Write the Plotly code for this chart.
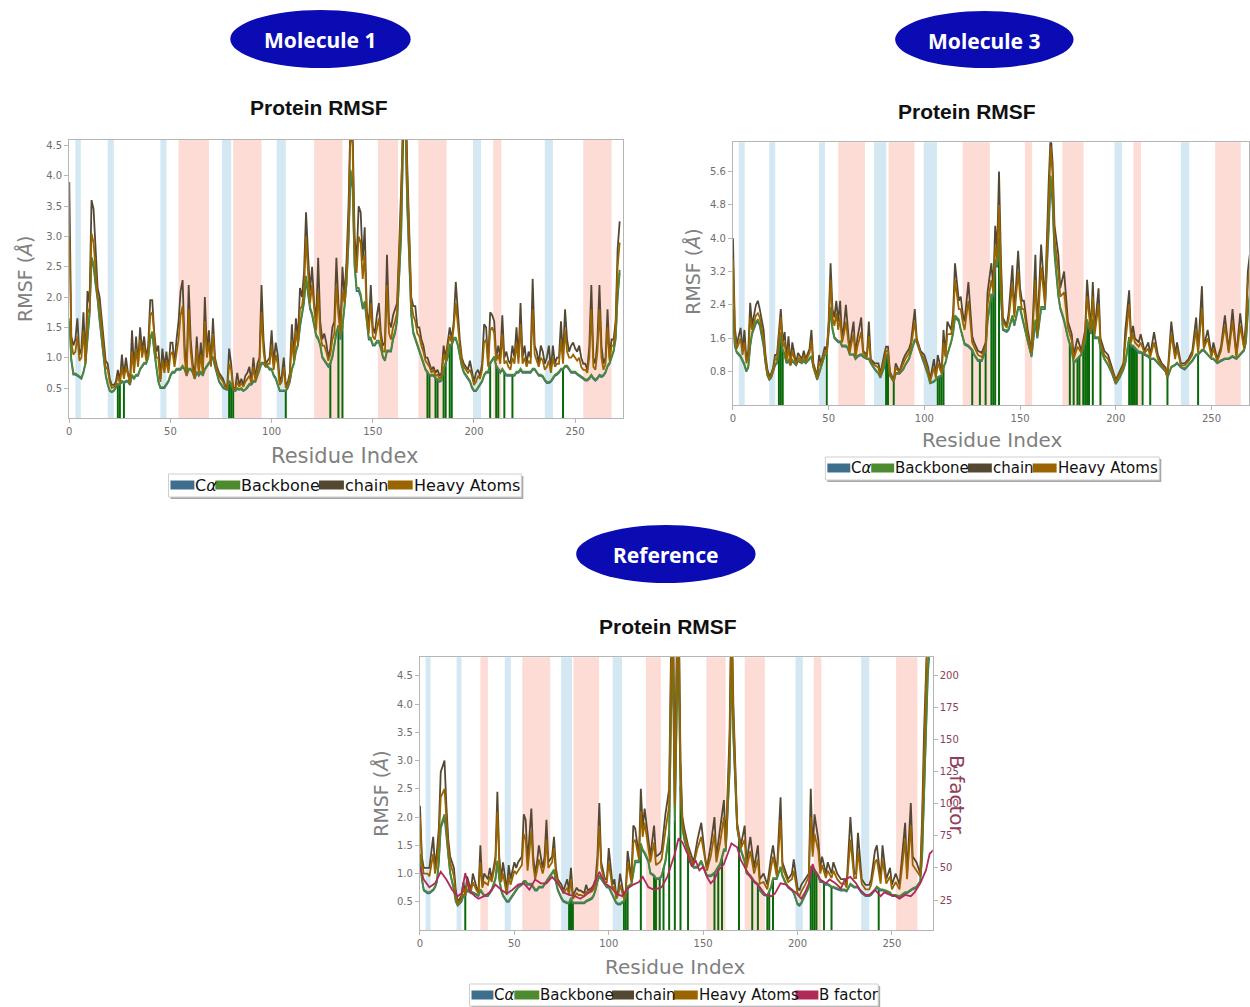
import numpy as np
import plotly.graph_objects as go

W, H = 1250, 1007
def X(px): return px / W
def Y(py): return 1 - py / H

# ---------------- DATA ----------------
SERIES = ["Cα", "Backbone", "chain", "Heavy Atoms"]
COLORS = {"Cα": "#3E6E8E", "Backbone": "#4E8A2E", "chain": "#544832",
          "Heavy Atoms": "#9A6400", "B factor": "#B02A5A"}
LABELS = {"Cα": "C<i>α</i>", "Backbone": "Backbone", "chain": "chain",
          "Heavy Atoms": "Heavy Atoms", "B factor": "B factor"}
X_TICKS = [0, 50, 100, 150, 200, 250]

# Molecule 1
m1_res = list(range(273))
m1_chain = [3.9,1.35,1.2,1.3,1.65,1.05,1.15,1.75,0.95,2.1,
 1.9,3.6,3.45,2.7,2.15,2.0,1.6,1.3,0.95,0.9,
 0.65,0.55,0.55,0.6,0.8,0.6,1.05,0.7,1.0,0.75,
 0.6,1.45,0.8,1.35,0.9,1.5,1.1,1.35,1.0,1.2,
 1.95,1.95,1.4,1.1,1.2,0.65,1.15,0.85,1.1,0.8,
 1.25,1.25,0.9,1.3,1.6,2.1,2.28,1.2,0.75,2.2,
 1.3,0.9,0.7,1.35,0.8,1.25,0.8,2.0,1.1,1.45,
 0.9,1.65,1.0,0.85,0.75,0.7,0.65,0.55,0.5,1.15,
 0.9,0.5,0.5,0.75,0.55,0.65,0.55,0.7,0.75,0.85,
 0.6,1.0,0.65,0.9,1.0,2.2,1.3,0.9,0.95,1.0,
 1.45,0.9,1.25,1.05,0.6,0.7,1.0,0.55,0.6,0.75,
 1.55,1.0,1.65,1.3,2.15,2.0,2.4,3.4,2.7,2.1,
 2.5,1.9,1.6,2.65,1.6,1.3,1.4,1.25,1.0,1.15,
 1.5,1.6,2.65,1.9,1.5,2.5,2.0,2.6,3.5,5.0,
 4.8,3.0,2.6,3.5,3.4,2.6,3.15,1.8,1.5,2.2,
 1.5,1.4,1.7,1.9,1.4,1.2,1.25,2.7,1.6,1.5,
 1.7,1.8,1.9,2.8,3.8,5.5,5.8,4.2,3.0,2.0,
 1.85,1.85,1.5,1.5,1.3,1.2,1.0,1.0,0.9,0.8,
 0.85,0.75,0.8,0.7,0.75,1.2,1.0,1.3,1.5,1.3,
 1.6,2.25,1.7,1.3,1.0,0.9,0.85,0.8,0.95,0.8,
 0.6,0.75,0.8,0.7,0.9,1.55,1.5,0.9,1.75,1.7,
 1.6,1.0,1.2,1.0,1.7,1.0,1.1,0.95,0.9,1.2,
 1.0,1.5,1.0,1.9,1.0,1.2,0.9,1.1,1.0,2.3,
 1.2,1.1,0.9,1.2,1.1,0.9,1.0,1.2,0.8,1.2,
 0.9,1.0,1.0,1.6,1.0,1.8,1.3,1.1,1.2,1.25,
 1.15,1.1,1.2,1.0,0.9,0.9,0.8,1.2,2.2,1.0,
 0.9,1.3,2.2,1.2,0.9,1.0,1.8,1.0,1.3,1.3,
 1.6,2.8,3.25]
m1_heavy = [3.0,1.25,1.05,1.1,1.35,0.95,1.0,1.45,0.9,1.8,
 1.75,3.05,2.9,2.4,2.0,1.85,1.45,1.15,0.85,0.8,
 0.6,0.5,0.52,0.55,0.7,0.58,0.85,0.65,0.85,0.7,
 0.58,1.1,0.75,1.15,0.85,1.3,1.0,1.2,0.95,1.1,
 1.7,1.75,1.3,1.0,1.0,0.6,0.95,0.75,0.95,0.75,
 1.05,1.1,0.85,1.1,1.3,1.7,1.85,1.0,0.7,1.8,
 1.1,0.8,0.65,1.15,0.75,1.05,0.75,1.6,1.0,1.25,
 0.85,1.4,0.95,0.8,0.7,0.65,0.6,0.52,0.48,0.9,
 0.8,0.48,0.48,0.6,0.52,0.58,0.52,0.6,0.65,0.7,
 0.58,0.85,0.62,0.8,0.9,1.75,1.1,0.85,0.9,0.9,
 1.2,0.8,1.05,0.9,0.55,0.6,0.85,0.5,0.55,0.7,
 1.3,0.95,1.45,1.2,1.8,1.85,2.1,3.0,2.4,1.9,
 2.2,1.75,1.45,2.1,1.4,1.2,1.2,1.1,0.95,1.05,
 1.3,1.4,2.2,1.7,1.4,2.1,1.9,2.4,3.2,4.8,
 4.5,2.8,2.4,3.0,2.9,2.3,2.7,1.7,1.4,1.9,
 1.35,1.3,1.5,1.65,1.3,1.1,1.1,2.2,1.4,1.3,
 1.5,1.6,1.75,2.5,3.5,5.2,5.5,4.0,2.8,1.9,
 1.7,1.6,1.4,1.35,1.2,1.1,0.95,0.9,0.85,0.75,
 0.8,0.7,0.72,0.65,0.7,1.05,0.95,1.2,1.35,1.25,
 1.5,1.9,1.5,1.2,0.95,0.85,0.8,0.75,0.8,0.7,
 0.55,0.6,0.7,0.65,0.8,1.25,1.3,0.85,1.45,1.5,
 1.4,0.95,1.05,0.9,1.4,0.9,0.95,0.85,0.8,1.0,
 0.9,1.25,0.9,1.55,0.9,1.0,0.85,0.95,0.9,1.8,
 1.05,0.95,0.85,1.0,0.95,0.8,0.85,0.95,0.75,1.0,
 0.85,0.9,0.9,1.3,0.9,1.45,1.1,1.0,1.0,1.05,
 1.0,0.95,1.0,0.85,0.8,0.8,0.75,1.0,1.8,0.85,
 0.8,1.1,1.8,1.0,0.8,0.9,1.5,0.95,1.2,1.2,
 1.5,2.5,2.9]
m1_ca = [1.6,0.95,0.72,0.72,0.7,0.68,0.65,0.75,0.9,1.3,
 1.7,2.6,2.5,2.2,1.95,1.6,1.3,0.95,0.7,0.55,
 0.45,0.43,0.45,0.5,0.55,0.55,0.6,0.58,0.6,0.6,
 0.55,0.7,0.65,0.7,0.7,0.8,0.85,0.9,0.9,1.0,
 1.3,1.4,1.1,0.8,0.6,0.5,0.5,0.5,0.55,0.6,
 0.7,0.75,0.75,0.8,0.8,0.8,0.85,0.8,0.7,0.8,
 0.8,0.75,0.65,0.75,0.7,0.75,0.7,0.8,0.85,0.9,
 0.95,1.0,0.85,0.7,0.6,0.55,0.5,0.48,0.47,0.6,
 0.55,0.47,0.45,0.48,0.47,0.48,0.45,0.47,0.5,0.55,
 0.55,0.6,0.6,0.7,0.8,0.9,0.9,0.85,0.85,0.8,
 0.8,0.7,0.65,0.55,0.45,0.45,0.45,0.45,0.5,0.6,
 0.8,0.9,1.1,1.2,1.5,1.7,1.9,2.3,2.0,1.8,
 1.7,1.5,1.35,1.3,1.2,1.0,0.95,0.9,0.85,0.9,
 1.0,1.2,1.4,1.5,1.3,1.5,1.8,2.2,2.9,4.0,
 3.8,2.5,2.1,2.1,2.0,1.8,1.9,1.6,1.3,1.3,
 1.2,1.2,1.25,1.25,1.15,1.0,0.95,1.1,1.1,1.1,
 1.3,1.4,1.6,2.2,3.0,4.6,5.0,3.5,2.5,1.7,
 1.4,1.3,1.2,1.1,1.0,0.9,0.8,0.75,0.7,0.7,
 0.7,0.65,0.62,0.6,0.62,0.8,0.9,1.0,1.2,1.2,
 1.3,1.3,1.2,1.0,0.85,0.75,0.7,0.65,0.6,0.5,
 0.45,0.45,0.5,0.55,0.6,0.7,0.75,0.75,0.9,0.95,
 1.0,0.85,0.8,0.75,0.8,0.75,0.7,0.7,0.7,0.7,
 0.7,0.75,0.75,0.8,0.75,0.75,0.75,0.75,0.75,0.8,
 0.8,0.75,0.7,0.7,0.68,0.62,0.58,0.58,0.6,0.65,
 0.7,0.72,0.75,0.8,0.8,0.85,0.85,0.8,0.75,0.75,
 0.75,0.72,0.7,0.68,0.65,0.62,0.62,0.65,0.7,0.65,
 0.62,0.65,0.7,0.68,0.7,0.75,0.85,0.9,1.0,1.1,
 1.3,2.0,2.4]
m1_backbone = [1.65,0.98,0.74,0.74,0.72,0.7,0.67,0.77,0.92,1.33,
 1.74,2.66,2.55,2.24,1.99,1.64,1.33,0.97,0.72,0.57,
 0.46,0.44,0.46,0.52,0.57,0.56,0.62,0.6,0.62,0.62,
 0.57,0.72,0.67,0.72,0.72,0.82,0.87,0.92,0.92,1.02,
 1.33,1.43,1.12,0.82,0.62,0.51,0.52,0.52,0.57,0.62,
 0.72,0.77,0.77,0.82,0.82,0.82,0.87,0.82,0.72,0.82,
 0.82,0.77,0.67,0.77,0.72,0.77,0.72,0.82,0.87,0.92,
 0.97,1.02,0.87,0.72,0.62,0.57,0.52,0.5,0.48,0.62,
 0.57,0.48,0.46,0.5,0.48,0.5,0.46,0.48,0.52,0.57,
 0.57,0.62,0.62,0.72,0.82,0.92,0.92,0.87,0.87,0.82,
 0.82,0.72,0.67,0.57,0.46,0.46,0.46,0.46,0.52,0.62,
 0.82,0.92,1.12,1.22,1.53,1.73,1.95,2.35,2.05,1.83,
 1.73,1.53,1.38,1.33,1.22,1.02,0.97,0.92,0.87,0.92,
 1.02,1.22,1.43,1.53,1.33,1.53,1.83,2.25,2.95,4.1,
 3.9,2.55,2.15,2.15,2.05,1.83,1.93,1.63,1.33,1.33,
 1.22,1.22,1.28,1.28,1.18,1.02,0.97,1.12,1.12,1.12,
 1.33,1.43,1.63,2.25,3.05,4.7,5.1,3.6,2.55,1.73,
 1.43,1.33,1.22,1.12,1.02,0.92,0.82,0.77,0.72,0.72,
 0.72,0.67,0.64,0.62,0.64,0.82,0.92,1.02,1.22,1.22,
 1.33,1.33,1.22,1.02,0.87,0.77,0.72,0.67,0.62,0.52,
 0.46,0.46,0.52,0.57,0.62,0.72,0.77,0.77,0.92,0.97,
 1.02,0.87,0.82,0.77,0.82,0.77,0.72,0.72,0.72,0.72,
 0.72,0.77,0.77,0.82,0.77,0.77,0.77,0.77,0.77,0.82,
 0.82,0.77,0.72,0.72,0.7,0.64,0.6,0.6,0.62,0.67,
 0.72,0.74,0.77,0.82,0.82,0.87,0.87,0.82,0.77,0.77,
 0.77,0.74,0.72,0.7,0.67,0.64,0.64,0.67,0.72,0.67,
 0.64,0.67,0.72,0.7,0.72,0.77,0.87,0.92,1.02,1.12,
 1.33,2.05,2.45]
m1_contacts = [24, 25, 27, 79, 80, 81, 107, 129, 133, 135, 177, 178, 181, 182,
               185, 186, 188, 189, 208, 211, 212, 215, 219, 244]
m1_helix = [(54, 69), (81, 95), (121, 135), (152.5, 162.5), (172.5, 186.5),
            (209.5, 213.5), (254, 268)]
m1_strand = [(3, 5.7), (19, 22), (45, 48), (75.5, 80), (102.5, 107),
             (199.5, 203.5), (235, 239)]

# Molecule 3
m3_res = [0,1,2,4,5,6,7,8,9,10, 12,13,14,16,17,18,19,20,21,22,
 23,25,26,27,28,29,30,31,33,34, 36,37,38,40,41,42,44,45,46,48,
 49,50,51,52,53,54,55,56,57,58, 59,60,61,62,63,64,65,67,68,70,
 71,72,74,76,77,79,80,81,82,83, 84,85,87,89,90,92,93,95,96,98,
 100,102,103,105,106,107,109,110,111,112, 114,115,116,118,119,120,121,123,125,126,
 128,130,132,133,135,136,137,138,139,140, 141,143,144,146,147,149,150,151,152,154,
 156,158,159,161,163,165,166,167,168,170, 171,173,175,177,178,180,182,184,185,187,
 188,189,191,192,194,196,198,200,202,204, 205,207,208,209,210,212,213,215,217,218,
 220,222,224,226,227,229,231,232,234,236, 238,240,242,243,245,246,248,250,251,253,
 255,257,259,261,263,265,267,268,269,270]
m3_chain = [4.0,1.85,1.45,1.85,1.3,1.8,1.1,1.3,2.45,1.9,
 2.4,2.5,2.3,1.8,1.2,0.85,0.7,0.75,0.9,1.2,
 1.2,2.3,1.5,1.75,1.1,1.65,1.0,1.5,1.0,1.25,
 1.1,1.3,1.1,1.35,1.8,1.0,0.7,1.2,1.0,1.4,
 1.3,2.0,3.4,2.3,2.1,2.5,2.0,2.5,1.6,1.9,
 2.4,1.8,1.3,1.7,2.0,1.2,1.6,2.1,1.3,1.2,
 2.0,1.1,1.0,1.0,0.75,1.2,1.4,1.4,0.8,0.7,
 0.6,1.0,0.8,1.1,1.2,1.35,1.5,2.3,1.6,1.3,
 1.2,0.9,0.6,1.1,0.7,1.2,0.8,1.8,1.2,2.0,
 1.8,2.2,3.4,2.5,2.6,2.2,2.0,2.95,1.65,1.5,
 1.3,1.25,1.5,2.7,3.4,2.8,4.3,3.7,5.6,3.5,
 2.1,1.9,2.2,3.35,2.2,3.7,2.8,2.5,2.5,1.8,
 1.3,3.6,1.8,3.85,2.5,5.4,6.5,5.8,4.3,3.6,
 2.8,3.2,2.0,1.7,1.2,1.6,1.3,1.8,3.0,1.8,
 2.95,1.8,2.8,1.6,1.3,1.2,0.9,0.6,0.8,1.0,
 1.8,2.75,1.6,1.9,1.6,1.5,1.7,1.3,1.5,1.2,
 1.75,1.2,1.0,0.9,0.7,2.0,1.2,1.5,1.0,1.0,
 1.1,1.3,2.1,1.3,2.85,1.4,1.8,1.2,1.5,1.1,
 1.4,2.15,1.3,2.3,1.2,2.2,1.4,2.0,3.2,3.6]
m3_heavy = [3.5,1.7,1.35,1.6,1.2,1.5,1.0,1.15,2.1,1.8,
 2.15,2.2,2.1,1.6,1.1,0.78,0.65,0.7,0.85,1.1,
 1.1,2.1,1.4,1.5,1.05,1.4,0.95,1.3,0.95,1.15,
 1.05,1.2,1.05,1.25,1.55,0.95,0.65,1.0,0.95,1.3,
 1.25,1.9,3.0,2.1,1.9,2.2,1.8,2.1,1.5,1.7,
 2.0,1.6,1.25,1.5,1.7,1.15,1.4,1.75,1.25,1.15,
 1.65,1.05,0.95,0.9,0.7,1.1,1.3,1.3,0.75,0.66,
 0.58,0.9,0.78,1.0,1.1,1.25,1.4,2.0,1.55,1.25,
 1.1,0.8,0.56,0.9,0.65,1.0,0.75,1.5,1.15,1.7,
 1.7,2.0,3.0,2.3,2.3,2.0,1.8,2.5,1.5,1.4,
 1.2,1.15,1.4,2.4,3.0,2.7,3.8,3.5,4.8,3.2,
 2.0,1.85,2.05,2.9,2.1,3.2,2.6,2.3,2.3,1.65,
 1.25,3.0,1.7,3.3,2.4,4.9,6.2,5.5,4.0,3.2,
 2.6,2.7,1.85,1.55,1.1,1.4,1.25,1.7,2.6,1.75,
 2.6,1.7,2.4,1.5,1.2,1.1,0.85,0.55,0.75,0.95,
 1.5,2.4,1.5,1.7,1.5,1.4,1.5,1.25,1.35,1.15,
 1.5,1.1,0.95,0.85,0.68,1.7,1.1,1.35,0.95,0.95,
 1.05,1.2,1.8,1.25,2.3,1.35,1.6,1.15,1.35,1.05,
 1.3,1.9,1.25,2.0,1.15,1.9,1.35,1.8,2.9,3.3]
m3_ca = [2.2,1.4,1.25,1.15,1.05,0.95,0.8,0.9,1.4,1.7,
 1.95,2.0,1.9,1.4,1.0,0.7,0.6,0.65,0.8,0.95,
 1.0,1.7,1.3,1.2,1.0,1.05,0.95,1.05,0.95,1.05,
 1.0,1.05,1.0,1.1,1.15,0.9,0.6,0.75,0.9,1.2,
 1.2,1.7,2.3,1.8,1.6,1.55,1.5,1.5,1.4,1.4,
 1.4,1.35,1.2,1.2,1.2,1.1,1.15,1.2,1.15,1.1,
 1.1,1.0,0.85,0.75,0.65,0.9,1.2,1.15,0.7,0.62,
 0.55,0.75,0.75,0.85,0.95,1.1,1.25,1.55,1.5,1.25,
 1.0,0.7,0.52,0.55,0.6,0.65,0.7,0.9,1.0,1.2,
 1.5,1.7,2.1,2.0,1.8,1.6,1.45,1.4,1.3,1.2,
 1.05,1.05,1.3,2.0,2.6,2.6,3.4,3.3,3.9,2.6,
 1.8,1.75,1.8,2.1,1.9,2.3,2.3,2.1,1.9,1.5,
 1.15,2.0,1.6,2.3,2.3,4.2,5.4,4.8,3.6,2.6,
 2.3,2.0,1.6,1.3,1.0,1.1,1.2,1.5,2.0,1.7,
 2.0,1.6,1.6,1.35,1.1,0.95,0.75,0.5,0.65,0.85,
 1.0,1.6,1.4,1.4,1.35,1.25,1.25,1.2,1.15,1.1,
 1.1,1.0,0.9,0.8,0.65,0.9,0.95,1.0,0.9,0.85,
 0.95,1.05,1.2,1.2,1.3,1.3,1.2,1.1,1.1,1.0,
 1.05,1.1,1.1,1.15,1.1,1.2,1.3,1.5,2.2,2.6]
m3_backbone = [2.3,1.45,1.28,1.18,1.08,0.98,0.82,0.92,1.45,1.75,
 2.0,2.05,1.95,1.45,1.02,0.72,0.62,0.67,0.82,0.98,
 1.02,1.75,1.33,1.22,1.02,1.08,0.97,1.08,0.97,1.08,
 1.02,1.08,1.02,1.12,1.18,0.92,0.62,0.77,0.92,1.22,
 1.22,1.75,2.35,1.85,1.63,1.58,1.53,1.53,1.43,1.43,
 1.43,1.38,1.22,1.22,1.22,1.12,1.18,1.22,1.18,1.12,
 1.12,1.02,0.87,0.77,0.67,0.92,1.22,1.18,0.72,0.64,
 0.57,0.77,0.77,0.87,0.97,1.12,1.28,1.58,1.53,1.28,
 1.02,0.72,0.54,0.57,0.62,0.67,0.72,0.92,1.02,1.22,
 1.53,1.73,2.15,2.05,1.83,1.63,1.48,1.43,1.33,1.22,
 1.08,1.08,1.33,2.05,2.65,2.65,3.5,3.35,4.0,2.65,
 1.83,1.78,1.83,2.15,1.93,2.35,2.35,2.15,1.93,1.53,
 1.18,2.05,1.63,2.35,2.35,4.3,5.5,4.9,3.7,2.65,
 2.35,2.05,1.63,1.33,1.02,1.12,1.22,1.53,2.05,1.73,
 2.05,1.63,1.63,1.38,1.12,0.97,0.77,0.52,0.67,0.87,
 1.02,1.63,1.43,1.43,1.38,1.28,1.28,1.22,1.18,1.12,
 1.12,1.02,0.92,0.82,0.67,0.92,0.97,1.02,0.92,0.87,
 0.97,1.08,1.22,1.22,1.33,1.33,1.22,1.12,1.12,1.02,
 1.08,1.12,1.12,1.18,1.12,1.22,1.33,1.53,2.25,2.65]
m3_contacts = [24, 25, 26, 49, 80, 81, 84, 107, 108, 109, 110, 125, 129, 132,
               135, 136, 137, 139, 176, 178, 180, 181, 183, 184, 185, 186, 188,
               192, 207, 208, 209, 210, 211, 214, 218, 227, 243]
m3_helix = [(55, 69), (81.3, 94.8), (120, 134.2), (152.5, 156.3), (172.1, 183.2),
            (209.2, 213.2), (251.9, 265.3)]
m3_strand = [(3.1, 6.1), (19, 22.1), (45, 48.1), (73.7, 80.1), (99.7, 106.6),
             (199.3, 203.2), (234, 238.4)]

# Reference
ref_res = [0,1,2,4,5,7,8,9,10,11, 13,14,15,16,18,19,20,22,23,24,
 25,27,28,30,31,32,33,34,36,37, 38,40,41,42,43,44,46,47,48,50,
 51,52,54,55,56,57,59,60,61,62, 63,65,66,67,68,70,71,72,73,75,
 76,78,79,80,81,83,84,85,87,88, 89,91,92,93,94,95,96,98,99,100,
 102,103,104,105,106,108,109,110,112,113, 114,116,117,118,119,121,122,124,125,127,
 128,130,132,133,134,135,136,137,138,139, 140,142,143,145,147,149,151,152,154,156,
 157,159,161,162,164,165,166,168,170,172, 173,175,177,179,180,182,184,186,187,189,
 191,192,194,195,197,198,200,201,202,204, 206,207,208,209,211,212,213,215,216,218,
 219,221,223,225,226,228,230,231,232,234, 236,238,239,241,242,244,245,247,249,250,
 252,254,255,257,258,260,261,263,265,266, 267,269,270,272]
ref_chain = [2.2,1.3,1.1,1.1,1.1,1.65,1.1,1.4,1.8,2.8,
 3.0,2.2,1.6,1.3,1.1,0.7,0.5,0.6,0.85,0.65,
 0.95,0.7,1.0,0.75,0.7,1.5,0.8,1.0,0.9,1.1,
 0.9,1.3,2.45,1.3,0.9,1.2,0.7,1.15,0.9,1.2,
 1.1,1.2,1.3,2.05,1.95,1.2,2.15,1.3,1.0,1.2,
 1.5,1.1,1.3,1.95,1.2,1.3,1.65,1.1,0.9,0.8,
 0.7,0.9,0.7,1.1,0.6,0.75,0.7,0.7,0.65,0.8,
 0.7,0.75,0.8,0.9,1.3,2.25,1.2,0.9,0.9,1.45,
 0.8,0.9,0.6,0.7,1.0,0.6,0.7,1.4,0.9,1.85,
 1.8,1.3,2.5,1.8,2.15,1.6,1.3,1.85,1.3,1.35,
 1.4,2.05,2.5,5.0,6.0,2.4,5.0,6.0,3.0,2.0,
 1.8,1.5,1.4,1.2,1.6,1.9,1.3,1.1,1.5,2.0,
 1.3,1.8,2.3,1.5,3.5,6.0,4.0,1.9,1.5,1.85,
 1.2,1.65,1.1,1.5,0.9,1.0,0.8,1.3,1.5,1.0,
 2.35,1.2,1.0,0.9,1.0,1.25,0.75,0.7,0.8,0.9,
 1.0,2.5,1.4,2.05,1.6,1.1,1.3,1.0,1.2,1.0,
 1.2,1.0,0.9,0.9,0.8,2.0,1.0,1.0,1.72,0.9,
 0.8,0.8,0.9,1.4,1.5,0.9,1.5,0.9,1.1,0.8,
 1.0,0.8,1.2,1.9,1.0,2.25,1.3,1.2,1.0,2.0,
 3.5,6.0,6.5,7.0]
ref_heavy = [2.0,1.2,1.0,1.0,0.95,1.35,1.0,1.2,1.6,2.35,
 2.5,2.0,1.45,1.2,0.95,0.62,0.47,0.55,0.75,0.62,
 0.85,0.68,0.85,0.7,0.65,1.2,0.75,0.85,0.8,0.95,
 0.85,1.2,2.1,1.2,0.85,1.0,0.62,0.95,0.8,1.05,
 1.0,1.05,1.15,1.7,1.6,1.05,1.75,1.15,0.9,1.05,
 1.25,1.0,1.15,1.6,1.1,1.2,1.45,1.0,0.85,0.72,
 0.65,0.75,0.62,0.9,0.55,0.65,0.62,0.62,0.6,0.68,
 0.65,0.68,0.72,0.8,1.15,1.85,1.1,0.85,0.85,1.2,
 0.72,0.78,0.55,0.62,0.8,0.55,0.65,1.2,0.85,1.55,
 1.6,1.25,2.1,1.65,1.9,1.45,1.2,1.55,1.15,1.2,
 1.25,1.75,2.2,4.6,5.6,2.2,4.6,5.6,2.8,1.9,
 1.7,1.45,1.3,1.15,1.45,1.65,1.2,1.05,1.3,1.7,
 1.2,1.55,2.0,1.45,3.2,5.6,3.8,1.85,1.45,1.6,
 1.1,1.4,1.0,1.25,0.82,0.85,0.72,1.1,1.3,0.95,
 1.95,1.1,0.92,0.85,0.9,1.05,0.65,0.6,0.68,0.8,
 0.95,2.0,1.3,1.7,1.4,1.0,1.15,0.92,1.05,0.92,
 1.05,0.9,0.82,0.82,0.75,1.6,0.92,0.92,1.4,0.82,
 0.72,0.72,0.8,1.2,1.25,0.82,1.25,0.82,0.95,0.72,
 0.85,0.72,1.0,1.6,0.9,1.85,1.15,1.05,0.95,1.8,
 3.2,5.5,6.0,6.5]
ref_ca = [1.3,0.9,0.7,0.65,0.65,0.7,0.75,0.85,1.2,1.8,
 2.0,1.7,1.3,1.0,0.7,0.5,0.43,0.5,0.6,0.6,
 0.7,0.65,0.65,0.62,0.6,0.7,0.65,0.6,0.6,0.65,
 0.7,0.9,1.2,0.9,0.7,0.6,0.5,0.5,0.55,0.65,
 0.7,0.75,0.8,0.85,0.85,0.8,0.8,0.75,0.7,0.7,
 0.75,0.75,0.8,0.85,0.9,1.0,1.05,0.85,0.7,0.55,
 0.5,0.47,0.47,0.55,0.47,0.47,0.47,0.47,0.47,0.5,
 0.52,0.55,0.6,0.7,0.85,0.95,0.9,0.8,0.75,0.75,
 0.6,0.55,0.47,0.45,0.45,0.5,0.6,0.75,0.8,1.0,
 1.2,1.2,1.5,1.4,1.35,1.2,1.0,0.95,0.9,0.9,
 0.95,1.2,1.7,3.8,4.8,1.9,3.8,4.8,2.5,1.8,
 1.6,1.35,1.2,1.1,1.1,1.2,1.05,0.95,0.95,1.0,
 1.05,1.15,1.4,1.4,2.8,4.8,3.4,1.8,1.4,1.2,
 1.0,0.95,0.85,0.8,0.7,0.62,0.6,0.75,0.9,0.9,
 1.1,0.95,0.8,0.75,0.7,0.65,0.45,0.43,0.47,0.6,
 0.75,1.1,1.1,1.05,0.95,0.85,0.85,0.8,0.8,0.75,
 0.75,0.72,0.7,0.7,0.68,0.8,0.75,0.75,0.75,0.65,
 0.6,0.6,0.62,0.7,0.75,0.7,0.7,0.68,0.65,0.6,
 0.6,0.58,0.6,0.65,0.65,0.7,0.72,0.75,0.85,1.3,
 2.5,4.5,5.0,5.5]
ref_backbone = [1.35,0.92,0.72,0.67,0.67,0.72,0.77,0.87,1.23,1.85,
 2.05,1.75,1.33,1.02,0.72,0.52,0.44,0.52,0.62,0.62,
 0.72,0.67,0.67,0.64,0.62,0.72,0.67,0.62,0.62,0.67,
 0.72,0.92,1.23,0.92,0.72,0.62,0.52,0.52,0.57,0.67,
 0.72,0.77,0.82,0.87,0.87,0.82,0.82,0.77,0.72,0.72,
 0.77,0.77,0.82,0.87,0.92,1.02,1.07,0.87,0.72,0.57,
 0.52,0.49,0.49,0.57,0.49,0.49,0.49,0.49,0.49,0.52,
 0.54,0.57,0.62,0.72,0.87,0.97,0.92,0.82,0.77,0.77,
 0.62,0.57,0.49,0.47,0.47,0.52,0.62,0.77,0.82,1.02,
 1.23,1.23,1.53,1.43,1.38,1.23,1.02,0.97,0.92,0.92,
 0.97,1.23,1.75,3.9,4.9,1.95,3.9,4.9,2.55,1.83,
 1.63,1.38,1.23,1.12,1.12,1.23,1.07,0.97,0.97,1.02,
 1.07,1.18,1.43,1.43,2.85,4.9,3.5,1.83,1.43,1.23,
 1.02,0.97,0.87,0.82,0.72,0.64,0.62,0.77,0.92,0.92,
 1.12,0.97,0.82,0.77,0.72,0.67,0.47,0.45,0.49,0.62,
 0.77,1.12,1.12,1.07,0.97,0.87,0.87,0.82,0.82,0.77,
 0.77,0.74,0.72,0.72,0.7,0.82,0.77,0.77,0.77,0.67,
 0.62,0.62,0.64,0.72,0.77,0.72,0.72,0.7,0.67,0.62,
 0.62,0.6,0.62,0.67,0.67,0.72,0.74,0.77,0.87,1.33,
 2.55,4.6,5.1,5.6]
ref_bf_res = [0,2,5,8,11,14,17,20,22,24,26,29,31,34,37,40,43,46,49,52,
 55,58,61,64,67,70,73,76,79,82,85,88,91,94,95,98,101,104,107,110,
 113,116,118,121,124,128,131,135,137,139,142,144,146,148,150,152,154,156,158,161,
 164,165,168,170,173,175,178,180,183,186,188,191,194,196,199,202,204,206,208,209,
 212,215,217,220,223,225,228,231,233,236,238,241,244,246,249,252,254,257,260,262,
 265,268,270,272]
ref_bfactor = [51,41,35,38,47,41,33,28,30,46,33,28,26,28,31,37,33,30,33,37,
 38,33,41,38,38,43,38,31,29,28,26,29,33,43,47,38,35,30,28,34,
 37,39,43,35,33,35,43,61,73,70,60,51,56,48,51,43,38,41,48,53,
 66,69,66,56,48,43,38,35,29,28,30,38,37,34,31,26,31,38,53,48,
 41,38,41,38,34,41,43,38,33,29,29,33,28,31,29,28,26,29,28,31,
 38,48,61,64]
ref_contacts = [24, 79, 80, 81, 108, 109, 110, 117, 124, 125, 127, 129, 132, 135,
                138, 142, 156, 158, 160, 169, 176, 179, 184, 185, 187, 207, 208,
                209, 210, 214, 218, 243]
ref_helix = [(32, 36), (54.2, 69), (81.3, 94.9), (119.7, 127.6), (151.7, 161.9),
             (172, 182.7), (208.6, 212.6), (252.2, 263.5)]
ref_strand = [(3, 5.6), (19.4, 22), (44.9, 48.1), (74.8, 80.5), (102.1, 107),
              (198.9, 202.8), (233.7, 238)]

for a, b in [(m1_res, m1_chain), (m1_res, m1_heavy), (m1_res, m1_ca), (m1_res, m1_backbone),
             (m3_res, m3_chain), (m3_res, m3_heavy), (m3_res, m3_ca), (m3_res, m3_backbone),
             (ref_res, ref_chain), (ref_res, ref_heavy), (ref_res, ref_ca), (ref_res, ref_backbone),
             (ref_bf_res, ref_bfactor)]:
    assert len(a) == len(b), (len(a), len(b))

# ---------------- FIGURE ----------------
fig = go.Figure()
shapes = []
annotations = []

TICKFONT = dict(family="DejaVu Sans", size=10, color="#6E6E6E")
FRAME = "#B5B5B5"
BLUE_BAND = "#D3E8F3"
PINK_BAND = "#FDDCD5"
CONTACT = "#0A6A0A"

panels = [
    dict(xa="x", ya="y", res=m1_res, ca=m1_ca, bb=m1_backbone, ch=m1_chain, hv=m1_heavy,
         contacts=m1_contacts, helix=m1_helix, strand=m1_strand,
         xdom=[X(66.5), X(621.7)], ydom=[Y(418.3), Y(139.5)], xr=[0, 273.5], yr=[0, 4.6],
         yt=[0.5, 1.0, 1.5, 2.0, 2.5, 3.0, 3.5, 4.0, 4.5]),
    dict(xa="x2", ya="y2", res=m3_res, ca=m3_ca, bb=m3_backbone, ch=m3_chain, hv=m3_heavy,
         contacts=m3_contacts, helix=m3_helix, strand=m3_strand,
         xdom=[X(732.3), 1.0], ydom=[Y(405), Y(142.3)], xr=[0, 269.6], yr=[0, 6.3],
         yt=[0.8, 1.6, 2.4, 3.2, 4.0, 4.8, 5.6]),
    dict(xa="x3", ya="y3", res=ref_res, ca=ref_ca, bb=ref_backbone, ch=ref_chain, hv=ref_heavy,
         contacts=ref_contacts, helix=ref_helix, strand=ref_strand,
         xdom=[X(418.3), X(932.7)], ydom=[Y(930), Y(657.3)], xr=[0, 271.6], yr=[0, 4.83],
         yt=[0.5, 1.0, 1.5, 2.0, 2.5, 3.0, 3.5, 4.0, 4.5]),
]

layout_axes = {}
for i, p in enumerate(panels):
    n = "" if i == 0 else str(i + 1)
    for (a, b) in p["strand"]:
        shapes.append(dict(type="rect", xref=p["xa"], yref=f"y{n} domain", x0=a, x1=b, y0=0, y1=1,
                           fillcolor=BLUE_BAND, line=dict(width=0), layer="below"))
    for (a, b) in p["helix"]:
        shapes.append(dict(type="rect", xref=p["xa"], yref=f"y{n} domain", x0=a, x1=b, y0=0, y1=1,
                           fillcolor=PINK_BAND, line=dict(width=0), layer="below"))
    tops = np.interp(p["contacts"], p["res"], p["bb"])
    cx, cy = [], []
    for r, t in zip(p["contacts"], tops):
        cx += [r, r, None]
        cy += [0, float(t), None]
    fig.add_trace(go.Scatter(x=cx, y=cy, mode="lines", line=dict(color=CONTACT, width=2),
                             xaxis=p["xa"], yaxis=p["ya"], showlegend=False, hoverinfo="skip"))
    for key, name in [("ca", "Cα"), ("bb", "Backbone"), ("ch", "chain"), ("hv", "Heavy Atoms")]:
        fig.add_trace(go.Scatter(x=p["res"], y=p[key], mode="lines", name=name,
                                 line=dict(color=COLORS[name], width=1.8),
                                 xaxis=p["xa"], yaxis=p["ya"], showlegend=False))
    layout_axes[f"xaxis{n}"] = dict(domain=p["xdom"], range=p["xr"], anchor=p["ya"],
                                    tickvals=X_TICKS, ticks="outside", ticklen=4, tickcolor=FRAME,
                                    showline=True, linecolor=FRAME, linewidth=1.3, mirror=True,
                                    showgrid=False, zeroline=False, tickfont=TICKFONT)
    layout_axes[f"yaxis{n}"] = dict(domain=p["ydom"], range=p["yr"], anchor=p["xa"],
                                    tickvals=p["yt"], ticktext=[f"{v:.1f}" for v in p["yt"]],
                                    ticks="outside", ticklen=4, tickcolor=FRAME,
                                    showline=True, linecolor=FRAME, linewidth=1.3, mirror=True,
                                    showgrid=False, zeroline=False, tickfont=TICKFONT)

BF_COLOR = "#8E3D5A"
fig.add_trace(go.Scatter(x=ref_bf_res, y=ref_bfactor, mode="lines", name="B factor",
                         line=dict(color=COLORS["B factor"], width=1.8),
                         xaxis="x3", yaxis="y4", showlegend=False))
layout_axes["yaxis4"] = dict(overlaying="y3", side="right", anchor="x3", range=[1.7, 213.8],
                             tickvals=[25, 50, 75, 100, 125, 150, 175, 200], ticks="outside",
                             ticklen=4, tickcolor=FRAME, showline=False, showgrid=False,
                             zeroline=False, tickfont=dict(family="DejaVu Sans", size=10, color=BF_COLOR))

BADGE = "#0B0BB4"
for (x0, x1, y0, y1, txt) in [(228, 409, 10, 68, "Molecule 1"), (895, 1074, 11, 68, "Molecule 3"),
                              (575, 755, 525, 583, "Reference")]:
    shapes.append(dict(type="circle", xref="paper", yref="paper", x0=X(x0), x1=X(x1),
                       y0=Y(y1), y1=Y(y0), fillcolor=BADGE, line=dict(width=0)))
    annotations.append(dict(text=f"<b>{txt}</b>", x=X((x0 + x1) / 2), y=Y((y0 + y1) / 2 + 1),
                            xref="paper", yref="paper", showarrow=False, xanchor="center",
                            yanchor="middle", font=dict(family="Noto Sans", size=21, color="white")))

TITLEFONT = dict(family="Liberation Sans", size=21, color="#111111")
AXFONT_C = "#808080"
for (tx, ty, rx, ry, ry_x, ry_y, size) in [(317, 107, 343, 456, 22, 279, 21),
                                            (967, 112, 993, 440, 692, 272, 20),
                                            (667, 626, 675, 967, 379, 794, 20)]:
    annotations.append(dict(text="<b>Protein RMSF</b>", x=X(tx), y=Y(ty), xref="paper", yref="paper",
                            showarrow=False, xanchor="center", yanchor="middle", font=TITLEFONT))
    annotations.append(dict(text="Residue Index", x=X(rx), y=Y(ry), xref="paper", yref="paper",
                            showarrow=False, xanchor="center", yanchor="middle",
                            font=dict(family="DejaVu Sans", size=size, color=AXFONT_C)))
    annotations.append(dict(text="RMSF (<i>Å</i>)", x=X(ry_x), y=Y(ry_y), xref="paper", yref="paper",
                            showarrow=False, xanchor="center", yanchor="middle", textangle=-90,
                            font=dict(family="DejaVu Sans", size=19, color=AXFONT_C)))

annotations.append(dict(text="B factor", x=X(957), y=Y(795), xref="paper", yref="paper",
                        showarrow=False, xanchor="center", yanchor="middle", textangle=90,
                        font=dict(family="DejaVu Sans", size=20, color=BF_COLOR)))

def draw_legend(box, items, fsize, yc):
    bx0, bx1, by0, by1 = box
    shapes.append(dict(type="rect", xref="paper", yref="paper", x0=X(bx0 + 2), x1=X(bx1 + 2),
                       y0=Y(by1 + 2), y1=Y(by0 + 2), fillcolor="#A8A8A8", line=dict(width=0)))
    shapes.append(dict(type="rect", xref="paper", yref="paper", x0=X(bx0), x1=X(bx1),
                       y0=Y(by1), y1=Y(by0), fillcolor="white", line=dict(color="#CFCFCF", width=1)))
    for (px0, px1, key) in items:
        shapes.append(dict(type="rect", xref="paper", yref="paper", x0=X(px0), x1=X(px1),
                           y0=Y(yc + 4.5), y1=Y(yc - 4.5), fillcolor=COLORS[key], line=dict(width=0)))
        annotations.append(dict(text=LABELS[key], x=X(px1 - 1), y=Y(yc), xref="paper", yref="paper",
                                showarrow=False, xanchor="left", yanchor="middle",
                                font=dict(family="DejaVu Sans", size=fsize, color="#111111")))

draw_legend((166, 520, 474, 497), [(168, 192, "Cα"), (213, 238, "Backbone"), (317, 342, "chain"),
                                   (386, 411, "Heavy Atoms")], 16, 485)
draw_legend((825, 1160, 457, 480), [(827, 850, "Cα"), (871, 894, "Backbone"), (968, 992, "chain"),
                                    (1033, 1057, "Heavy Atoms")], 15, 468)
draw_legend((468, 878, 984, 1006), [(470, 492, "Cα"), (513, 538, "Backbone"), (611, 633, "chain"),
                                    (673, 697, "Heavy Atoms"), (795, 818, "B factor")], 15, 995)

fig.update_layout(width=W, height=H, margin=dict(l=0, r=0, t=0, b=0),
                  paper_bgcolor="white", plot_bgcolor="white", showlegend=False,
                  shapes=shapes, annotations=annotations, **layout_axes)

fig.write_html("out.html", config={"displayModeBar": False},
               post_script="document.body.style.margin='0';document.body.style.overflow='hidden';")
